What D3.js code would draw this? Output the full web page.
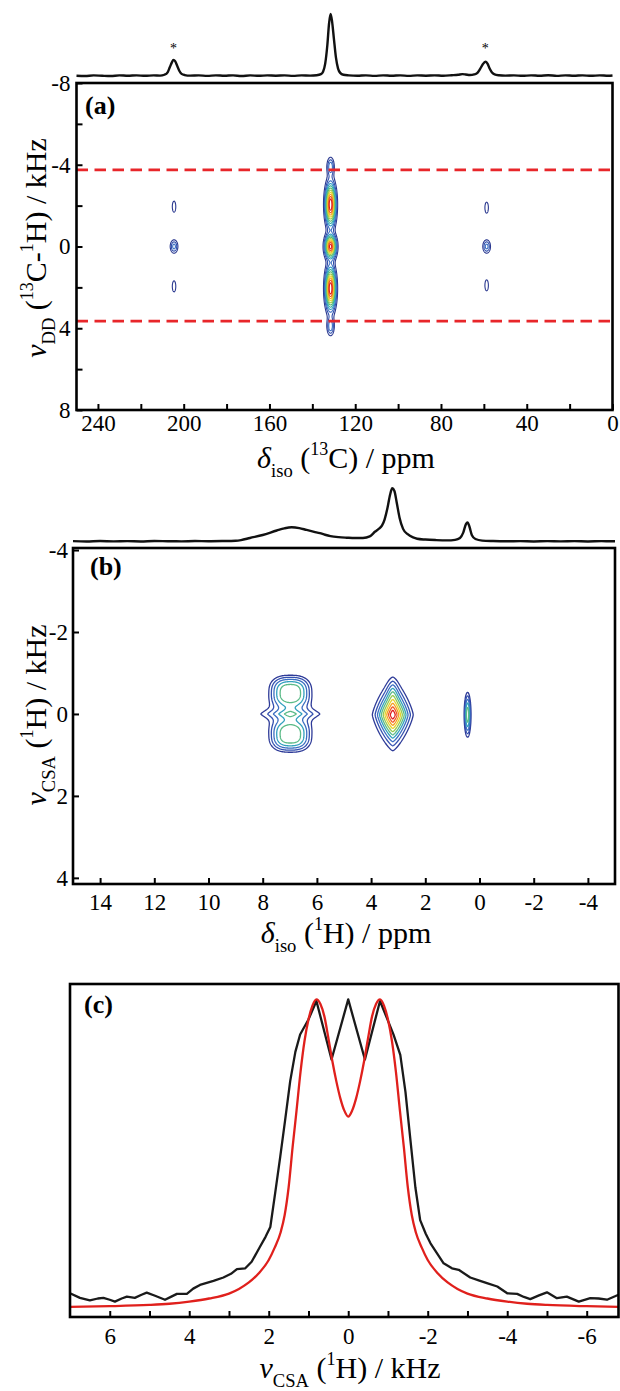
<!DOCTYPE html>
<html><head><meta charset="utf-8">
<script src="https://cdn.jsdelivr.net/npm/d3@7"></script>
<style>
body{margin:0;background:#fff}
svg{display:block;background:#fff}
text{font-family:"Liberation Serif","Times New Roman",Times,serif;fill:#000}
</style></head>
<body><svg id="chart" width="620" height="1391"></svg>
<script>
// ================= DATA =================
// Panel (a): 13C projection (ppm, intensity)
const projA = [[250,0.005],[246,0.0],[242,0.01],[238,0.004],[234,0.0],[230,0.01],[226,0.004],[222,0.01],[218,0.003],[214,0.01],[211,0.006],[209,0.02],[207.5,0.06],[206.5,0.14],[205.5,0.22],[204.8,0.26],[204,0.24],[203,0.16],[202,0.08],[201,0.035],[199.5,0.015],[197,0.006],[193,0.01],[189,0.002],[185,0.01],[181,0.004],[177,0.01],[173,0.0],[169,0.01],[165,0.003],[161,0.01],[157,0.005],[153,0.01],[149,0.002],[145,0.01],[141,0.006],[138,0.012],[136,0.03],[135,0.07],[134,0.2],[133,0.5],[132.2,0.85],[131.5,1.0],[130.8,0.88],[130,0.62],[129,0.3],[128,0.12],[127,0.05],[125.5,0.02],[123,0.01],[119,0.004],[115,0.01],[111,0.002],[107,0.01],[103,0.004],[99,0.01],[95,0.002],[91,0.01],[87,0.005],[83,0.01],[79,0.004],[75,0.012],[72,0.02],[70,0.03],[68.5,0.025],[66.5,0.015],[64.5,0.025],[63,0.05],[61.8,0.11],[60.5,0.19],[59.3,0.23],[58.3,0.2],[57.3,0.12],[56.3,0.06],[55,0.025],[53,0.012],[50,0.006],[46,0.01],[42,0.003],[38,0.01],[34,0.004],[30,0.012],[26,0.002],[22,0.01],[18,0.004],[14,0.01],[10,0.003],[6,0.01],[2,0.004],[0,0.008]];
const asteriskPpm = [204.8, 59.3];
// Panel (a) 2D peaks: [ppm, kHz, amplitude, width ppm, width kHz, shape]
const peaksA = [
  [131.5,-2.05,1.0,1.35,0.6,2],[131.5,0,0.95,1.45,0.33,2],[131.5,2.05,1.0,1.35,0.6,2],
  [131.5,-3.9,0.22,1.0,0.27,2],[131.5,3.9,0.22,1.0,0.27,2],
  [204.5,-1.95,0.075,0.9,0.3,2],[204.5,0,0.19,1.1,0.2,2],[204.5,1.95,0.075,0.9,0.3,2],
  [58.7,-1.9,0.075,0.9,0.3,2],[58.7,0,0.19,1.1,0.2,2],[58.7,1.9,0.075,0.9,0.3,2]
];
const levelsA = [0.05,0.1,0.16,0.23,0.31,0.4,0.5,0.6,0.7,0.8,0.9];
const dashedKHz = [-3.75, 3.65];
const aXTicks = [240,220,200,180,160,140,120,100,80,60,40,20,0];
const aXLabels = [240,200,160,120,80,40,0];
const aYTicks = [-8,-6,-4,-2,0,2,4,6,8];
const aYLabels = [-8,-4,0,4,8];

// Panel (b): 1H projection (ppm, intensity)
const projB = [[15,0.01],[14.5,0.005],[14,0.012],[13.5,0.007],[13,0.011],[12.5,0.005],[12,0.012],[11.5,0.009],[11,0.007],[10.5,0.012],[10,0.009],[9.5,0.012],[9.0,0.018],[8.8,0.03],[8.47,0.07],[8.0,0.125],[7.48,0.21],[7.2,0.25],[6.93,0.27],[6.65,0.255],[6.38,0.22],[6.1,0.185],[5.89,0.16],[5.7,0.13],[5.5,0.105],[5.2,0.085],[4.9,0.075],[4.6,0.068],[4.3,0.07],[4.05,0.1],[3.85,0.19],[3.72,0.24],[3.6,0.3],[3.5,0.42],[3.4,0.62],[3.3,0.88],[3.22,1.0],[3.14,0.95],[3.05,0.72],[2.95,0.45],[2.82,0.24],[2.65,0.14],[2.45,0.08],[2.3,0.055],[2.0,0.04],[1.6,0.03],[1.2,0.025],[0.9,0.035],[0.72,0.07],[0.6,0.17],[0.5,0.33],[0.44,0.36],[0.37,0.28],[0.28,0.12],[0.15,0.05],[-0.1,0.02],[-0.5,0.012],[-1,0.008],[-1.5,0.011],[-2,0.005],[-2.5,0.01],[-3,0.007],[-3.5,0.011],[-4,0.005],[-4.5,0.01],[-5,0.008]];
// Panel (b) 2D peaks: [ppm, kHz, amplitude, width ppm, width kHz, shape]
const peaksB = [
  [6.98,-0.52,0.29,0.466,0.25,2.6],[6.98,0.51,0.29,0.466,0.25,2.6],[6.98,0.0,0.25,0.4,0.1,1.3],
  [3.2,0.02,1.0,0.18,0.21,1.3],[3.2,-0.45,0.06,0.12,0.22,2],
  [0.44,0.02,0.27,0.065,0.28,2]
];
const levelsB = [0.04,0.07,0.11,0.16,0.22,0.3,0.4,0.52,0.66,0.82];
const bXTicks = [14,12,10,8,6,4,2,0,-2,-4];
const bYTicks = [-4,-2,0,2,4];

// Panel (c): slices (kHz, intensity)
const sliceExp = [[7.0,0.047],[6.75,0.032],[6.5,0.024],[6.3,0.03],[6.16,0.032],[6.0,0.026],[5.87,0.02],[5.7,0.03],[5.57,0.036],[5.37,0.032],[5.2,0.042],[5.07,0.049],[4.86,0.039],[4.61,0.026],[4.45,0.036],[4.31,0.045],[4.06,0.045],[3.9,0.062],[3.73,0.074],[3.39,0.087],[3.14,0.098],[2.95,0.11],[2.8,0.125],[2.59,0.128],[2.43,0.149],[2.22,0.198],[2.08,0.23],[1.96,0.262],[1.84,0.37],[1.71,0.49],[1.59,0.606],[1.46,0.735],[1.33,0.83],[1.21,0.886],[1.0,0.935],[0.8,0.995],[0.42,0.805],[0.0,1.0],[-0.42,0.805],[-0.8,0.995],[-1.14,0.886],[-1.31,0.82],[-1.44,0.70],[-1.56,0.55],[-1.69,0.39],[-1.81,0.284],[-1.95,0.24],[-2.07,0.209],[-2.4,0.144],[-2.61,0.128],[-2.78,0.123],[-3.07,0.098],[-3.3,0.088],[-3.49,0.08],[-3.75,0.069],[-4.0,0.047],[-4.25,0.045],[-4.42,0.035],[-4.58,0.028],[-4.8,0.04],[-5.0,0.05],[-5.25,0.031],[-5.5,0.036],[-5.65,0.028],[-5.8,0.02],[-6.09,0.031],[-6.3,0.03],[-6.51,0.026],[-6.8,0.042]];
const sliceSim = [[7.0,0.003],[6.0,0.005],[5.0,0.009],[4.5,0.013],[4.0,0.02],[3.5,0.03],[3.0,0.046],[2.75,0.061],[2.5,0.082],[2.25,0.112],[2.0,0.155],[1.85,0.195],[1.7,0.245],[1.6,0.3],[1.5,0.39],[1.4,0.52],[1.3,0.64],[1.2,0.765],[1.1,0.865],[1.0,0.935],[0.9,0.98],[0.8,1.0],[0.7,0.985],[0.6,0.945],[0.5,0.875],[0.4,0.8],[0.3,0.735],[0.2,0.68],[0.1,0.64],[0.0,0.62],[-0.1,0.64],[-0.2,0.68],[-0.3,0.735],[-0.4,0.8],[-0.5,0.875],[-0.6,0.945],[-0.7,0.985],[-0.8,1.0],[-0.9,0.98],[-1.0,0.935],[-1.1,0.865],[-1.2,0.765],[-1.3,0.64],[-1.4,0.52],[-1.5,0.39],[-1.6,0.3],[-1.7,0.245],[-1.85,0.195],[-2.0,0.155],[-2.25,0.112],[-2.5,0.082],[-2.75,0.061],[-3.0,0.046],[-3.5,0.03],[-4.0,0.02],[-4.5,0.013],[-5.0,0.009],[-6.0,0.005],[-6.8,0.003]];
const cXTicks = [6,5,4,3,2,1,0,-1,-2,-3,-4,-5,-6];
const cXLabels = [6,4,2,0,-2,-4,-6];

// ================= STYLE =================
const contourColorsA = ["#2b3990","#3150ad","#3a6fc4","#2f9ec6","#36b09e","#5cbb6f","#a2cc45","#ead52b","#f5a11f","#ee5a22","#e01d1d"];
const contourColorsB = ["#2e3b98","#3451b0","#3b6ec2","#33a0be","#5bbb88","#96c94f","#e6d42c","#f59f20","#ef5823","#e01d1d"];
const SERIF = '"Liberation Serif","Times New Roman",Times,serif';
const TICK_FS = 23, TITLE_FS = 30, PANEL_FS = 26;

// ================= DRAW =================
const svg = d3.select("#chart");

function frame(x, y) {
  const [x0,x1] = x.range(), [y0,y1] = y.range();
  svg.append("rect").attr("x", Math.min(x0,x1)).attr("y", Math.min(y0,y1))
    .attr("width", Math.abs(x1-x0)).attr("height", Math.abs(y1-y0))
    .attr("fill","none").attr("stroke","#000").attr("stroke-width",2.6);
}
function styleAxis(g) {
  g.attr("font-family", SERIF).attr("font-size", TICK_FS);
  g.select(".domain").remove();
  g.selectAll(".tick line").attr("stroke","#000").attr("stroke-width",2);
  g.selectAll(".tick text").style("font-size",TICK_FS+"px").style("font-family",SERIF).attr("fill","#000");
}
function bottomAxis(x, yPos, ticks, labels, pad) {
  const g = svg.append("g").attr("transform",`translate(0,${yPos})`)
    .call(d3.axisBottom(x).tickValues(ticks).tickSize(-6).tickPadding(pad)
      .tickFormat(d => labels.includes(d) ? String(d) : ""));
  styleAxis(g);
}
function leftAxis(y, xPos, ticks, labels, pad) {
  const g = svg.append("g").attr("transform",`translate(${xPos},0)`)
    .call(d3.axisLeft(y).tickValues(ticks).tickSize(-6).tickPadding(pad)
      .tickFormat(d => labels.includes(d) ? String(d) : ""));
  styleAxis(g);
}
function richText(parts, x, y, size, rot) {
  const t = svg.append("text")
    .attr("transform", `translate(${x},${y})` + (rot ? ` rotate(${rot})` : ""))
    .attr("text-anchor","middle").style("font-size", size+"px").style("font-family", SERIF);
  let shift = 0;
  parts.forEach(p => {
    const ts = t.append("tspan").text(p.t);
    let target = 0, fs = size;
    if (p.sub) { target = 0.3*size; fs = 0.62*size; }
    if (p.sup) { target = -0.42*size; fs = 0.6*size; }
    ts.style("font-size", fs+"px");
    if (p.i) ts.style("font-style","italic");
    if (target !== shift) { ts.attr("dy", target - shift); shift = target; }
  });
}
function drawContours(x, y, peaks, levels, colors, step, sw) {
  const xr = x.range(), yr = y.range();
  const left = Math.min(...xr), right = Math.max(...xr);
  const top = Math.min(...yr), bottom = Math.max(...yr);
  const nx = Math.ceil((right-left)/step)+1, ny = Math.ceil((bottom-top)/step)+1;
  const vals = new Float64Array(nx*ny);
  for (let j=0;j<ny;j++) {
    const v = y.invert(top + j*step);
    for (let i=0;i<nx;i++) {
      const u = x.invert(left + i*step);
      let s = 0;
      for (const [cx,cy,a,sx,sy,p] of peaks) {
        const dx = Math.abs((u-cx)/sx), dy = Math.abs((v-cy)/sy);
        if (dx > 12 || dy > 12) continue;
        const e = p === 2 ? dx*dx+dy*dy : Math.pow(dx,p)+Math.pow(dy,p);
        s += a*Math.exp(-0.5*e);
      }
      vals[j*nx+i] = s;
    }
  }
  const cs = d3.contours().size([nx,ny]).thresholds(levels)(vals);
  const path = d3.geoPath(d3.geoTransform({point(px,py){ this.stream.point(left+(px-0.5)*step, top+(py-0.5)*step); }}));
  svg.append("g").selectAll("path").data(cs).join("path")
    .attr("d", path).attr("fill","none")
    .attr("stroke", d => colors[levels.indexOf(d.value)])
    .attr("stroke-width", sw).attr("stroke-linejoin","round");
}

// ---------- Panel (a) ----------
const xA = d3.scaleLinear().domain([250,0]).range([76.5,612.5]);
const yA = d3.scaleLinear().domain([-8,8]).range([83,410]);
const yPA = d3.scaleLinear().domain([0,1]).range([76,14]);

svg.append("path").datum(projA)
  .attr("d", d3.line().x(d=>xA(d[0])).y(d=>yPA(d[1])).curve(d3.curveMonotoneX))
  .attr("fill","none").attr("stroke","#111").attr("stroke-width",2.4);
asteriskPpm.forEach(p => svg.append("text").attr("x", xA(p)).attr("y", 53)
  .attr("text-anchor","middle").style("font-size","14px").attr("fill","#555").text("*"));

drawContours(xA, yA, peaksA, levelsA, contourColorsA, 0.5, 1.1);
dashedKHz.forEach(k => svg.append("line")
  .attr("x1", xA.range()[0]).attr("x2", xA.range()[1]).attr("y1", yA(k)).attr("y2", yA(k))
  .attr("stroke","#e8262a").attr("stroke-width",2.6).attr("stroke-dasharray","11.5,6.5"));
frame(xA, yA);
bottomAxis(xA, 410, aXTicks, aXLabels, 5);
leftAxis(yA, 76.5, aYTicks, aYLabels, 6);
svg.append("text").attr("x",85).attr("y",114).style("font-size",PANEL_FS+"px").style("font-weight","bold").text("(a)");
richText([{t:"δ",i:1},{t:"iso",sub:1},{t:" ("},{t:"13",sup:1},{t:"C) / ppm"}], 346, 468, TITLE_FS);
richText([{t:"ν",i:1},{t:"DD",sub:1},{t:" ("},{t:"13",sup:1},{t:"C-"},{t:"1",sup:1},{t:"H) / kHz"}], 46, 248, TITLE_FS, -90);

// ---------- Panel (b) ----------
const xB = d3.scaleLinear().domain([15,-5]).range([73,615]);
const yB = d3.scaleLinear().domain([-4.05,4.15]).range([548,884]);
const yPB = d3.scaleLinear().domain([0,1]).range([541.7,488.3]);

svg.append("path").datum(projB)
  .attr("d", d3.line().x(d=>xB(d[0])).y(d=>yPB(d[1])).curve(d3.curveMonotoneX))
  .attr("fill","none").attr("stroke","#111").attr("stroke-width",2.4);
drawContours(xB, yB, peaksB, levelsB, contourColorsB, 0.5, 1.3);
frame(xB, yB);
bottomAxis(xB, 884, bXTicks, bXTicks, 10);
leftAxis(yB, 73, bYTicks, bYTicks, 5);
svg.append("text").attr("x",90).attr("y",575).style("font-size",PANEL_FS+"px").style("font-weight","bold").text("(b)");
richText([{t:"δ",i:1},{t:"iso",sub:1},{t:" ("},{t:"1",sup:1},{t:"H) / ppm"}], 346, 943, TITLE_FS);
richText([{t:"ν",i:1},{t:"CSA",sub:1},{t:" ("},{t:"1",sup:1},{t:"H) / kHz"}], 46, 715, TITLE_FS, -90);

// ---------- Panel (c) ----------
const xC = d3.scaleLinear().domain([7,-6.8]).range([70,618.5]);
const yC = d3.scaleLinear().domain([-0.03,1.05]).range([1317,984]);
svg.append("path").datum(sliceExp)
  .attr("d", d3.line().x(d=>xC(d[0])).y(d=>yC(d[1])).curve(d3.curveLinear))
  .attr("fill","none").attr("stroke","#1a1a1a").attr("stroke-width",2.3).attr("stroke-linejoin","round");
svg.append("path").datum(sliceSim)
  .attr("d", d3.line().x(d=>xC(d[0])).y(d=>yC(d[1])).curve(d3.curveMonotoneX))
  .attr("fill","none").attr("stroke","#e0201c").attr("stroke-width",2.3);
frame(xC, yC);
bottomAxis(xC, 1317, cXTicks, cXLabels, 11);
svg.append("text").attr("x",84).attr("y",1013).style("font-size",PANEL_FS+"px").style("font-weight","bold").text("(c)");
richText([{t:"ν",i:1},{t:"CSA",sub:1},{t:" ("},{t:"1",sup:1},{t:"H) / kHz"}], 350, 1378, TITLE_FS);
</script>
</body></html>
